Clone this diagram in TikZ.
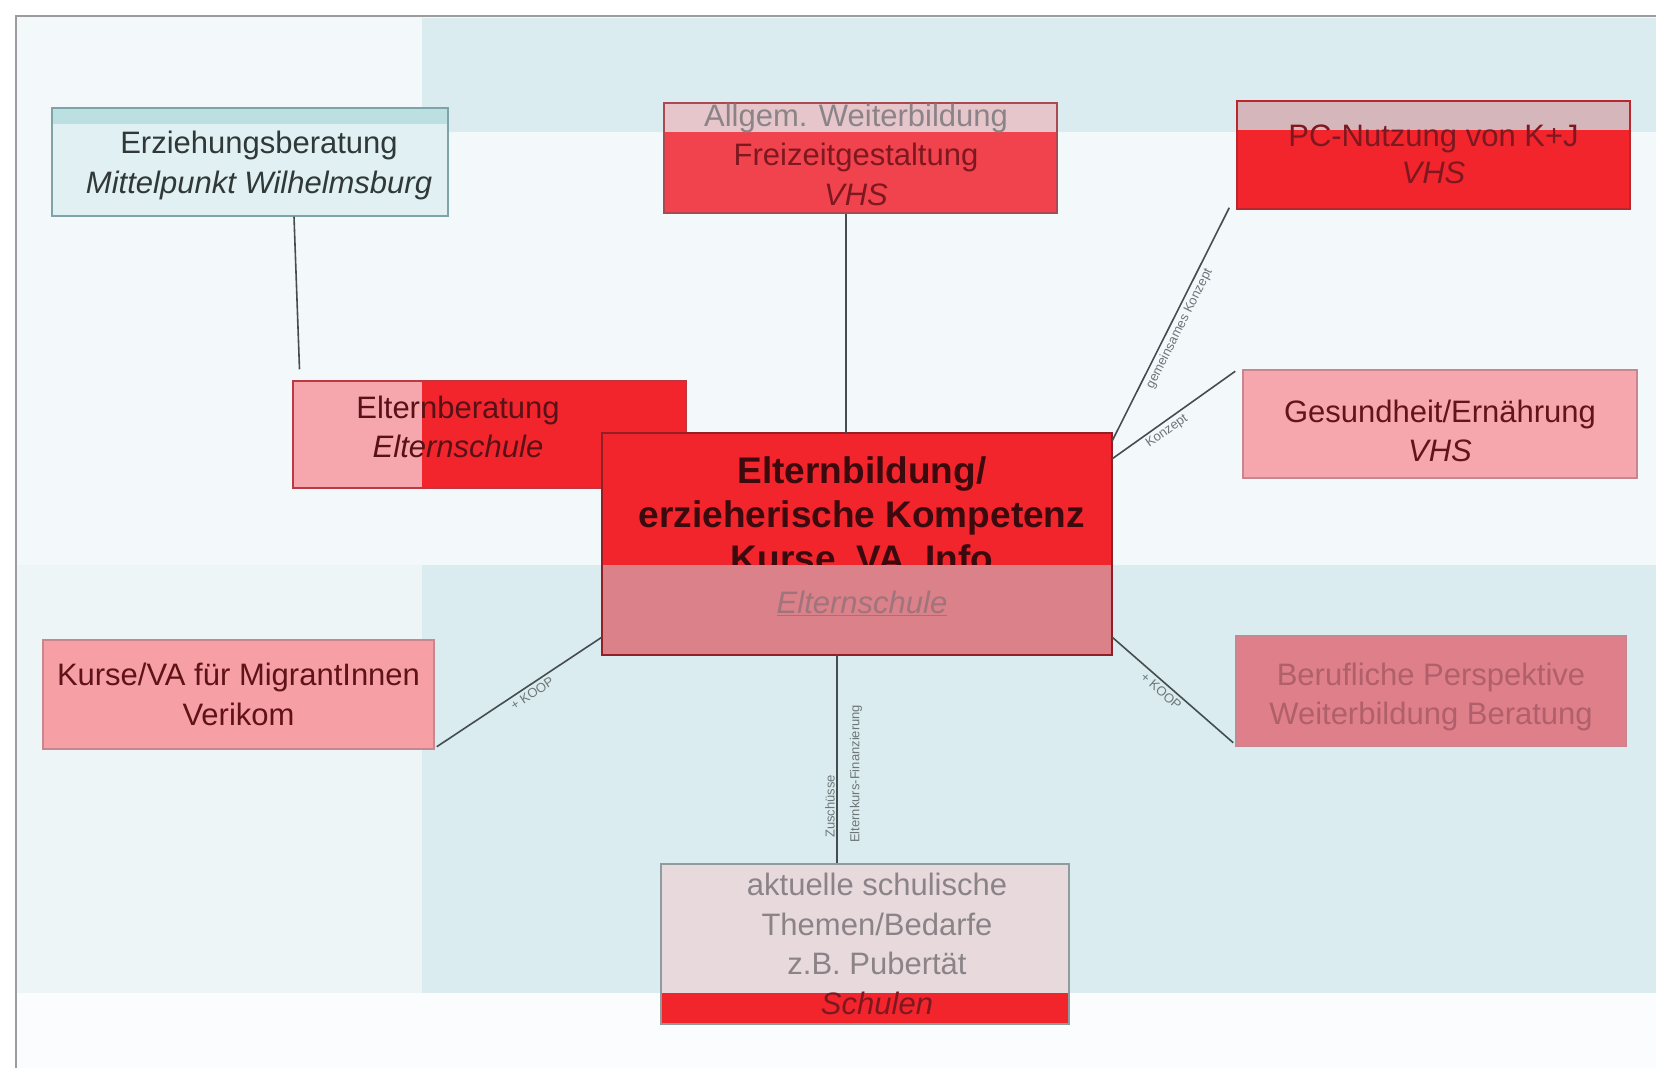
\documentclass[tikz,border=0pt]{standalone}
\usepackage{fontspec}
\setmainfont{Liberation Sans}
\usetikzlibrary{calc}
\definecolor{bgpage}{HTML}{F3F8FA}
\definecolor{bglow}{HTML}{EEF5F7}
\definecolor{bgtint}{HTML}{DAECEF}
\definecolor{frameline}{HTML}{9C9C9C}
\definecolor{conn}{HTML}{454D50}
\definecolor{lbl}{HTML}{6E7679}
\definecolor{erzfill}{HTML}{E1F1F3}
\definecolor{erztop}{HTML}{BCDFE2}
\definecolor{erzline}{HTML}{7EA4A8}
\definecolor{txtdark}{HTML}{303838}
\definecolor{redA}{HTML}{F2252D}
\definecolor{redB}{HTML}{F1434D}
\definecolor{redline}{HTML}{B8262E}
\definecolor{striptop}{HTML}{E6C6CB}
\definecolor{pinkA}{HTML}{F6A7AE}
\definecolor{pinkline}{HTML}{C8868E}
\definecolor{mute}{HTML}{DF7F8A}
\definecolor{mutelow}{HTML}{DA8189}
\definecolor{greypink}{HTML}{E8D9DD}
\definecolor{greyline}{HTML}{8E9C9E}
\definecolor{txtred}{HTML}{7E1820}
\definecolor{txtgrey}{HTML}{8A8488}
\definecolor{txtmute}{HTML}{B0606A}
\definecolor{txtctr}{HTML}{3A0A0E}
\definecolor{txtsub}{HTML}{A0747C}
\begin{document}
\begin{tikzpicture}[x=1pt,y=-1pt,
  boxbase/.style={rectangle, inner sep=0pt, line width=1.5pt, align=center,
    font=\fontsize{31}{39.5}\selectfont},
  txtbase/.style={inner sep=0pt, align=center, font=\fontsize{31}{39.5}\selectfont},
  link/.style={draw=conn, line width=1.6pt},
  linklbl/.style={font=\fontsize{13}{15}\selectfont, text=lbl, inner sep=3pt}
]
\useasboundingbox (0,0) rectangle (1656,1068);
\fill[white] (0,0) rectangle (1656,1068);
\fill[bgpage] (16,16) rectangle (1656,1068);
\fill[bgtint] (422,18) rectangle (1656,132);
\fill[bglow] (16,565) rectangle (422,993);
\fill[bgtint] (422,565) rectangle (1656,993);
\fill[white!60!bgpage] (16,993) rectangle (1656,1068);
\draw[frameline, line width=2pt] (16,1068) -- (16,16) -- (1656,16);
\coordinate (bandtop) at (0,565);
\coordinate (vxa) at (846,0);
\coordinate (vxb) at (837,0);

% ---------- boxes ----------
\node[boxbase, draw=erzline, fill=erzfill, text=txtdark,
  minimum width=396pt, minimum height=108pt,
  path picture={\fill[erztop] (path picture bounding box.north west) rectangle ([yshift=-16pt]path picture bounding box.north east);}]
  (erz) at (250,162) {};
\node[txtbase, text=txtdark] (erzt) at (259,165.5) {Erziehungsberatung\\\textit{Mittelpunkt Wilhelmsburg}};

\node[boxbase, draw=redline!70!greyline, fill=redB, text=txtred,
  minimum width=393pt, minimum height=110pt,
  path picture={\fill[striptop] (path picture bounding box.north west) rectangle ([yshift=-29pt]path picture bounding box.north east);}]
  (allg) at (860.5,158) {};
\node[txtbase, text=txtred] (allgt) at (856,154.5) {{\color{txtgrey}Allgem. Weiterbildung}\\Freizeitgestaltung\\\textit{VHS}};

\node[boxbase, draw=redline, fill=redA, text=txtred,
  minimum width=393pt, minimum height=108pt,
  path picture={\fill[striptop!92!black] (path picture bounding box.north west) rectangle ([yshift=-29pt]path picture bounding box.north east);}]
  (pc) at (1433.5,155) {};
\node[txtbase, text=txtred, font=\fontsize{31}{37}\selectfont] (pct) at (1433.5,154) {PC-Nutzung von K+J\\\textit{VHS}};

\node[boxbase, draw=pinkline, fill=pinkA,
  minimum width=394pt, minimum height=108pt]
  (ges) at (1440,424) {};
\node[txtbase, text=txtred!80!black] (gest) at (1440,431) {Gesundheit/Ernährung\\\textit{VHS}};

\node[boxbase, draw=redline!80!pinkline, fill=pinkA,
  minimum width=393pt, minimum height=107pt,
  path picture={\fill[redA] ([xshift=129pt]path picture bounding box.north west) rectangle (path picture bounding box.south east);}]
  (elt) at (489.5,434.5) {};
\node[txtbase, text=txtred!70!black] (eltt) at (458,427) {Elternberatung\\\textit{Elternschule}};

\node[boxbase, draw=pinkline, fill=pinkA!95!red, text=txtred!75!black,
  minimum width=391pt, minimum height=109pt]
  (kur) at (238.5,694.5) {Kurse/VA für MigrantInnen\\Verikom};

\node[boxbase, draw=pinkline, fill=mute,
  minimum width=390pt, minimum height=110pt]
  (ber) at (1431,691) {};
\node[txtbase, text=txtmute] (bert) at (1431,697) {Berufliche Perspektive\\Weiterbildung Beratung};

\node[boxbase, draw=greyline, fill=greypink, text=txtgrey,
  minimum width=408pt, minimum height=160pt,
  path picture={\fill[redA] ([yshift=31pt]path picture bounding box.south west) rectangle (path picture bounding box.south east);}]
  (akt) at (865,944) {\hspace*{24pt}aktuelle schulische\\\hspace*{24pt}Themen/Bedarfe\\\hspace*{24pt}z.B. Pubertät\\\hspace*{24pt}{\color{txtred}\textit{Schulen}}};

% centre box
\node[rectangle, inner sep=0pt, fill=redA, minimum width=510pt, minimum height=222pt]
  (ctr) at (857,544) {};
\node[inner sep=0pt, align=center, font=\fontsize{37}{44}\selectfont\bfseries, text=txtctr]
  (ctrt) at (862,517) {Elternbildung/\\erzieherische Kompetenz\\Kurse, VA, Info};
\fill[mutelow] (ctr.south west) rectangle (ctr.east |- bandtop);
\draw[redline!80!black, line width=1.5pt] (ctr.south west) rectangle (ctr.north east);
\node[txtbase, text=txtsub] (ctrs) at (862,603) {\underline{\textit{Elternschule}}};

% ---------- connectors ----------
\draw[link] ([xshift=44pt]erz.south) -- ([xshift=-190pt,yshift=11pt]elt.north);
\draw[link] (allg.south -| vxa) -- (ctr.north -| vxa);
\draw[link] ([yshift=-8pt]ctr.north east) -- node[linklbl, sloped, below] {gemeinsames Konzept} ([xshift=-7pt,yshift=2pt]pc.south west);
\draw[link] ([yshift=-26pt]ctr.north east) -- node[linklbl, sloped, below, pos=0.4] {Konzept} ([xshift=-7pt,yshift=-2pt]ges.north west);
\draw[link] ([yshift=18pt]ctr.south west) -- node[linklbl, sloped, below, pos=0.45] {+ KOOP} ([xshift=2pt,yshift=3pt]kur.south east);
\draw[link] ([yshift=18pt]ctr.south east) -- node[linklbl, sloped, below, pos=0.45] {+ KOOP} ([xshift=-2pt,yshift=4pt]ber.south west);
\draw[link] (ctr.south -| vxb) -- (akt.north -| vxb);
\node[linklbl, rotate=90, anchor=west, inner sep=0pt] (lz) at (830,838) {Zuschüsse};
\node[linklbl, rotate=90, anchor=west, inner sep=0pt] (lf) at (856,843) {Elternkurs-Finanzierung};
\end{tikzpicture}
\end{document}
